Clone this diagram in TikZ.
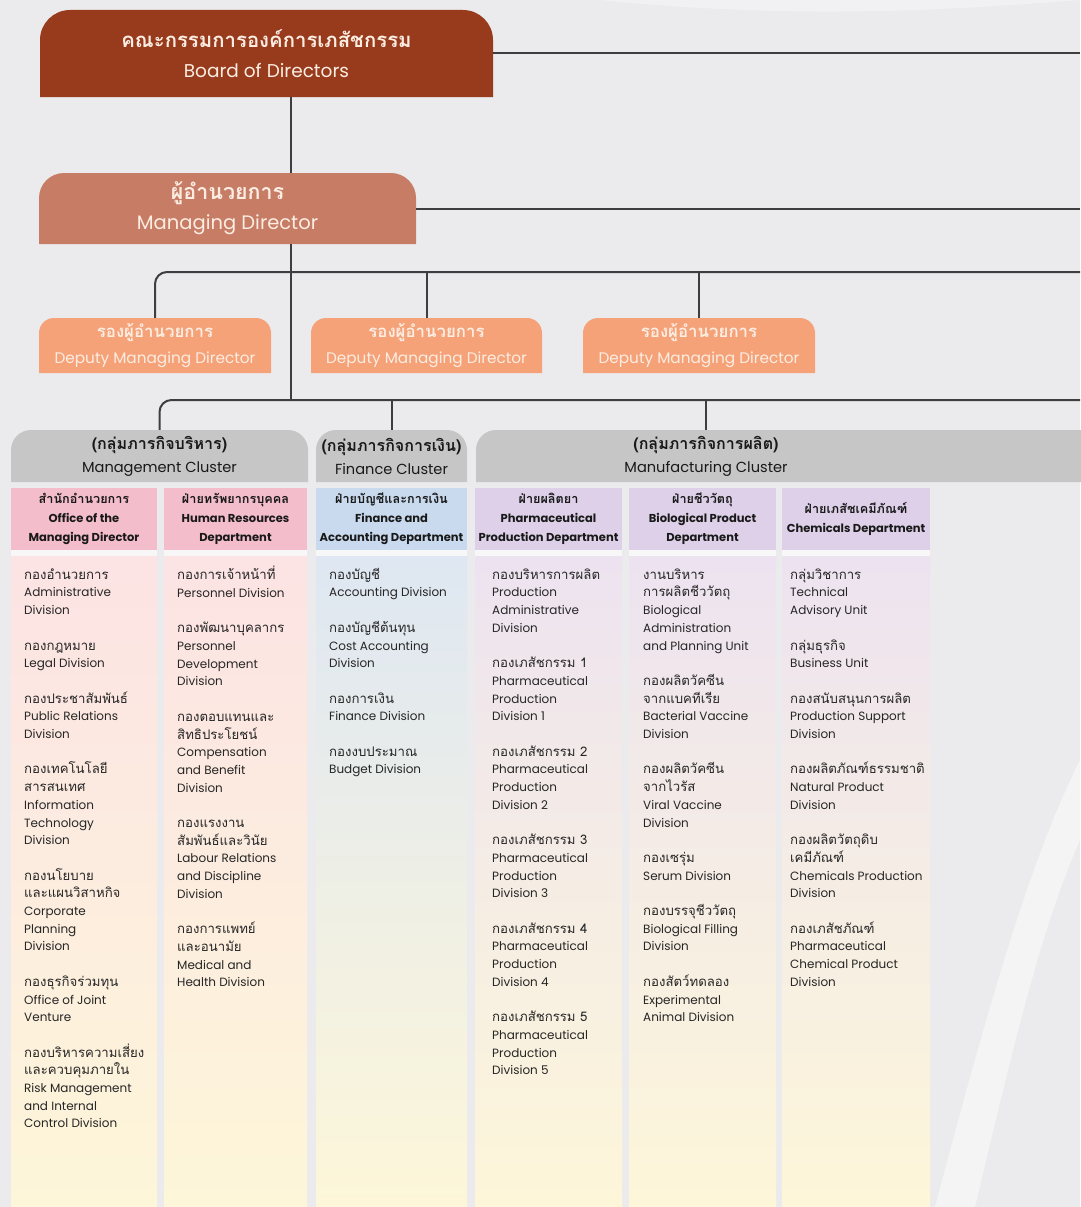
\documentclass[tikz,border=0pt]{standalone}
\usepackage{fontspec}
\setmainfont{Poppins}
\newfontfamily\thaifont[Script=Thai,Scale=1.1]{Loma}
\newcommand\tx[1]{{\thaifont #1}}
\definecolor{bgc}{HTML}{EBEBED}
\definecolor{boardc}{HTML}{983B1D}
\definecolor{mdc}{HTML}{C77C66}
\definecolor{depc}{HTML}{F5A279}
\definecolor{clc}{HTML}{C6C6C6}
\definecolor{linec}{HTML}{3E3E3E}
\definecolor{lighttext}{HTML}{FCEDE2}
\definecolor{bodyc}{HTML}{262626}
\definecolor{pinkh}{HTML}{F3BDCB}
\definecolor{pinkb}{HTML}{FCE3E4}
\definecolor{blueh}{HTML}{C9DAEF}
\definecolor{blueb}{HTML}{DEE7F2}
\definecolor{lavh}{HTML}{DDD0E8}
\definecolor{lavb}{HTML}{EDE3F0}
\definecolor{yelb}{HTML}{FDF6D9}
\begin{document}
\begin{tikzpicture}[x=1pt,y=-1pt,
  conn/.style={draw=linec, line width=2pt},
  boxnode/.style={inner sep=0pt, align=center, anchor=center},
  coltext/.style={inner sep=0pt, align=left, anchor=north west,
    font=\fontsize{12}{17.7}\selectfont, text=bodyc},
  colhead/.style={inner sep=0pt, align=center, anchor=center,
    font=\bfseries\fontsize{11.5}{19}\selectfont, text=black!90},
  clnode/.style={inner sep=0pt, align=center, anchor=center,
    font=\fontsize{14.6}{23}\selectfont, text=black!90}]
\useasboundingbox (0,0) rectangle (1080,1207);
\fill[bgc] (0,0) rectangle (1080,1207);
% faint light swooshes at right
\fill[white, opacity=0.45] (935,1207) .. controls (990,1000) and (1030,860) .. (1080,760) -- (1080,840) .. controls (1040,930) and (1010,1060) .. (975,1207) -- cycle;
\fill[white, opacity=0.35] (600,0) .. controls (800,20) and (950,10) .. (1080,0) -- cycle;

% coordinates
\coordinate (edge) at (1080,0);
\coordinate (spine) at (291,0);
\coordinate (Rdep) at (1080,272);
\coordinate (Rcl) at (1080,400);
\coordinate (mfgtap) at (706,0);

% Board
\fill[boardc, rounded corners=30pt] (40,97) -- (40,10) -- (493,10) [sharp corners] -- (493,97) -- cycle;
\node[boxnode, minimum width=453pt, minimum height=87pt, text=lighttext,
  font=\fontsize{18.5}{30}\selectfont] (board) at (266.5,53.5)
  {\tx{\bfseries คณะกรรมการองค์การเภสัชกรรม}\\Board of Directors};
% Managing Director
\fill[mdc, rounded corners=25pt] (39,244) -- (39,173) -- (416,173) [sharp corners] -- (416,244) -- cycle;
\node[boxnode, minimum width=377pt, minimum height=71pt, text=lighttext,
  font=\fontsize{19.5}{30}\selectfont] (md) at (227.5,208.5)
  {\tx{\bfseries ผู้อำนวยการ}\\Managing Director};
% Deputies
\foreach \i/\xa/\xb in {1/39/271, 2/311/542, 3/583/815}{
  \fill[depc, rounded corners=15pt] (\xa,373) -- (\xa,318) -- (\xb,318) [sharp corners] -- (\xb,373) -- cycle;
}
\node[boxnode, minimum width=232pt, minimum height=55pt, text=lighttext,
  font=\fontsize{15.3}{26}\selectfont] (dep1) at (155,345.5)
  {\tx{\bfseries รองผู้อำนวยการ}\\Deputy Managing Director};
\node[boxnode, minimum width=231pt, minimum height=55pt, text=lighttext,
  font=\fontsize{15.3}{26}\selectfont] (dep2) at (426.5,345.5)
  {\tx{\bfseries รองผู้อำนวยการ}\\Deputy Managing Director};
\node[boxnode, minimum width=232pt, minimum height=55pt, text=lighttext,
  font=\fontsize{15.3}{26}\selectfont] (dep3) at (699,345.5)
  {\tx{\bfseries รองผู้อำนวยการ}\\Deputy Managing Director};

% Cluster headers
\fill[clc, rounded corners=20pt] (11,482) -- (11,430) -- (308,430) [sharp corners] -- (308,482) -- cycle;
\fill[clc, rounded corners=20pt] (316,482) -- (316,430) -- (467,430) [sharp corners] -- (467,482) -- cycle;
\fill[clc, rounded corners=20pt] (476,482) -- (476,430) -- (1100,430) [sharp corners] -- (1100,482) -- cycle;
\node[clnode, minimum width=297pt, minimum height=52pt] (mgmt) at (159.5,456)
  {\tx{\bfseries (กลุ่มภารกิจบริหาร)}\\Management Cluster};
\node[clnode, minimum width=151pt, minimum height=52pt] (fin) at (391.5,456)
  {\tx{\bfseries (กลุ่มภารกิจการเงิน)}\\Finance Cluster};
\node[clnode, minimum width=604pt, minimum height=52pt] (mfg) at (778,456) {};
\node[clnode] (mfgtext) at (706,456)
  {\tx{\bfseries (กลุ่มภารกิจการผลิต)}\\Manufacturing Cluster};

% Connectors
\draw[conn] (board.east) -- (board.east -| edge);
\draw[conn] (board.south -| spine) -- (md.north -| spine);
\draw[conn] (md.east) -- (md.east -| edge);
\draw[conn] (md.south -| spine) -- (spine |- Rcl);
\draw[conn, rounded corners=12pt] (dep1.north) |- (Rdep);
\draw[conn] (dep2.north) -- (dep2.north |- Rdep);
\draw[conn] (dep3.north) -- (dep3.north |- Rdep);
\draw[conn, rounded corners=12pt] (mgmt.north) |- (Rcl);
\draw[conn] (fin.north) -- (fin.north |- Rcl);
\draw[conn] (mfg.north -| mfgtap) -- (mfgtap |- Rcl);

% Columns: headers and bodies
\foreach \xa/\xb/\hc/\bc in {11/157/pinkh/pinkb, 164/307/pinkh/pinkb, 316/467/blueh/blueb,
  475/622/lavh/lavb, 629/776/lavh/lavb, 782/930/lavh/lavb}{
  \fill[\hc] (\xa,488) rectangle (\xb,550);
  \fill[white, opacity=0.6] (\xa,550) rectangle (\xb,556);
  \shade[top color=\bc, bottom color=yelb] (\xa,556) rectangle (\xb,1207);
}

\node[colhead] (h1) at (84,519) {\tx{สำนักอำนวยการ}\\Office of the\\Managing Director};
\node[colhead] (h2) at (235.5,519) {\tx{ฝ่ายทรัพยากรบุคคล}\\Human Resources\\Department};
\node[colhead] (h3) at (391.5,519) {\tx{ฝ่ายบัญชีและการเงิน}\\Finance and\\Accounting Department};
\node[colhead] (h4) at (548.5,519) {\tx{ฝ่ายผลิตยา}\\Pharmaceutical\\Production Department};
\node[colhead] (h5) at (702.5,519) {\tx{ฝ่ายชีววัตถุ}\\Biological Product\\Department};
\node[colhead] (h6) at (856,519) {\tx{ฝ่ายเภสัชเคมีภัณฑ์}\\Chemicals Department};

\node[coltext] (c1) at (24,566) {\rule{0pt}{13pt}\tx{กองอำนวยการ}\\Administrative\\Division\\[17.7pt]
\tx{กองกฎหมาย}\\Legal Division\\[17.7pt]
\tx{กองประชาสัมพันธ์}\\Public Relations\\Division\\[17.7pt]
\tx{กองเทคโนโลยี}\\\tx{สารสนเทศ}\\Information\\Technology\\Division\\[17.7pt]
\tx{กองนโยบาย}\\\tx{และแผนวิสาหกิจ}\\Corporate\\Planning\\Division\\[17.7pt]
\tx{กองธุรกิจร่วมทุน}\\Office of Joint\\Venture\\[17.7pt]
\tx{กองบริหารความเสี่ยง}\\\tx{และควบคุมภายใน}\\Risk Management\\and Internal\\Control Division};

\node[coltext] (c2) at (177,566) {\rule{0pt}{13pt}\tx{กองการเจ้าหน้าที่}\\Personnel Division\\[17.7pt]
\tx{กองพัฒนาบุคลากร}\\Personnel\\Development\\Division\\[17.7pt]
\tx{กองตอบแทนและ}\\\tx{สิทธิประโยชน์}\\Compensation\\and Benefit\\Division\\[17.7pt]
\tx{กองแรงงาน}\\\tx{สัมพันธ์และวินัย}\\Labour Relations\\and Discipline\\Division\\[17.7pt]
\tx{กองการแพทย์}\\\tx{และอนามัย}\\Medical and\\Health Division};

\node[coltext] (c3) at (329,566) {\rule{0pt}{13pt}\tx{กองบัญชี}\\Accounting Division\\[17.7pt]
\tx{กองบัญชีต้นทุน}\\Cost Accounting\\Division\\[17.7pt]
\tx{กองการเงิน}\\Finance Division\\[17.7pt]
\tx{กองงบประมาณ}\\Budget Division};

\node[coltext] (c4) at (492,566) {\rule{0pt}{13pt}\tx{กองบริหารการผลิต}\\Production\\Administrative\\Division\\[17.7pt]
\tx{กองเภสัชกรรม 1}\\Pharmaceutical\\Production\\Division 1\\[17.7pt]
\tx{กองเภสัชกรรม 2}\\Pharmaceutical\\Production\\Division 2\\[17.7pt]
\tx{กองเภสัชกรรม 3}\\Pharmaceutical\\Production\\Division 3\\[17.7pt]
\tx{กองเภสัชกรรม 4}\\Pharmaceutical\\Production\\Division 4\\[17.7pt]
\tx{กองเภสัชกรรม 5}\\Pharmaceutical\\Production\\Division 5};

\node[coltext] (c5) at (643,566) {\rule{0pt}{13pt}\tx{งานบริหาร}\\\tx{การผลิตชีววัตถุ}\\Biological\\Administration\\and Planning Unit\\[17.7pt]
\tx{กองผลิตวัคซีน}\\\tx{จากแบคทีเรีย}\\Bacterial Vaccine\\Division\\[17.7pt]
\tx{กองผลิตวัคซีน}\\\tx{จากไวรัส}\\Viral Vaccine\\Division\\[17.7pt]
\tx{กองเซรุ่ม}\\Serum Division\\[17.7pt]
\tx{กองบรรจุชีววัตถุ}\\Biological Filling\\Division\\[17.7pt]
\tx{กองสัตว์ทดลอง}\\Experimental\\Animal Division};

\node[coltext] (c6) at (790,566) {\rule{0pt}{13pt}\tx{กลุ่มวิชาการ}\\Technical\\Advisory Unit\\[17.7pt]
\tx{กลุ่มธุรกิจ}\\Business Unit\\[17.7pt]
\tx{กองสนับสนุนการผลิต}\\Production Support\\Division\\[17.7pt]
\tx{กองผลิตภัณฑ์ธรรมชาติ}\\Natural Product\\Division\\[17.7pt]
\tx{กองผลิตวัตถุดิบ}\\\tx{เคมีภัณฑ์}\\Chemicals Production\\Division\\[17.7pt]
\tx{กองเภสัชภัณฑ์}\\Pharmaceutical\\Chemical Product\\Division};
\end{tikzpicture}
\end{document}
